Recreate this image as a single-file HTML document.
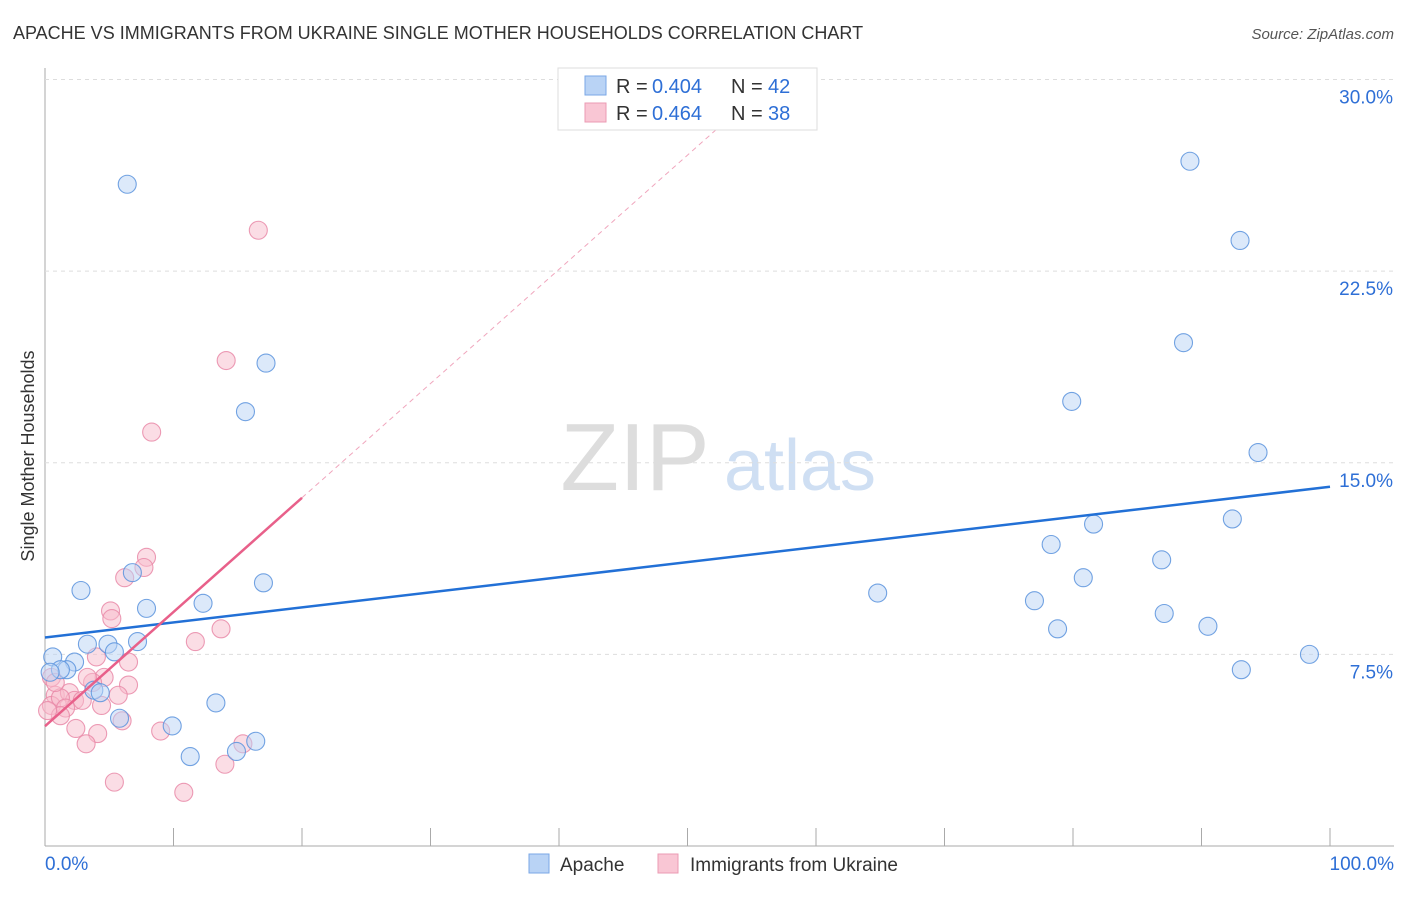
<!DOCTYPE html>
<html><head><meta charset="utf-8"><style>
body{margin:0;background:#fff;font-family:"Liberation Sans",sans-serif;}
svg text{font-family:"Liberation Sans",sans-serif;}
</style></head><body>
<svg id="chart" width="1406" height="892" xmlns="http://www.w3.org/2000/svg">
<text x="13" y="39" font-size="18" fill="#333">APACHE VS IMMIGRANTS FROM UKRAINE SINGLE MOTHER HOUSEHOLDS CORRELATION CHART</text>
<text x="1394" y="39" font-size="15" fill="#555" text-anchor="end" font-style="italic">Source: ZipAtlas.com</text>
<text transform="translate(34,456) rotate(-90)" font-size="18" fill="#333" text-anchor="middle">Single Mother Households</text>
<g><text x="635" y="490" font-size="96" fill="#ddd" font-family="Liberation Serif" text-anchor="middle">ZIP</text><text x="800" y="490" font-size="72" fill="#cfdff3" text-anchor="middle">atlas</text></g>
<g id="grid"></g><g id="marks"></g>
<g>
<rect x="558" y="68" width="259" height="62" fill="#fff" stroke="#ddd"/>
<rect x="585" y="76" width="21" height="19" fill="#b9d3f5" stroke="#7aa7e6"/>
<rect x="585" y="103" width="21" height="19" fill="#f9c6d4" stroke="#eb9bb3"/>
<text x="616" y="93" font-size="20" fill="#333">R =</text><text x="652" y="93" font-size="20" fill="#2e6fd6">0.404</text>
<text x="731" y="93" font-size="20" fill="#333">N =</text><text x="768" y="93" font-size="20" fill="#2e6fd6">42</text>
<text x="616" y="120" font-size="20" fill="#333">R =</text><text x="652" y="120" font-size="20" fill="#2e6fd6">0.464</text>
<text x="731" y="120" font-size="20" fill="#333">N =</text><text x="768" y="120" font-size="20" fill="#2e6fd6">38</text>
</g>
<g>
<rect x="529" y="854" width="20" height="19" fill="#b9d3f5" stroke="#7aa7e6"/>
<text x="560" y="871" font-size="19" fill="#333">Apache</text>
<rect x="658" y="854" width="20" height="19" fill="#f9c6d4" stroke="#eb9bb3"/>
<text x="690" y="871" font-size="19" fill="#333">Immigrants from Ukraine</text>
</g>
</svg>
<script>
const yTicks=[7.5,15,22.5,30];
const yTickLabels=["7.5%","15.0%","22.5%","30.0%"];
const xTickLabels=["0.0%","100.0%"];
const apacheX=[6.4,17.2,15.6,6.8,2.8,7.9,12.3,17,3.3,4.9,7.2,5.4,0.6,2.3,1.7,1.2,3.8,4.3,5.8,9.9,13.3,11.3,14.9,16.4,0.4,89.1,93,88.6,79.9,94.4,92.4,81.6,78.3,86.9,80.8,64.8,77.0,87.1,78.8,90.5,93.1,98.4];
const apacheY=[25.9,18.9,17.0,10.7,10.0,9.3,9.5,10.3,7.9,7.9,8.0,7.6,7.4,7.2,6.9,6.9,6.1,6.0,5.0,4.7,5.6,3.5,3.7,4.1,6.8,26.8,23.7,19.7,17.4,15.4,12.8,12.6,11.8,11.2,10.5,9.9,9.6,9.1,8.5,8.6,6.9,7.5];
const ukrX=[16.6,14.1,8.3,7.9,7.7,6.2,5.1,5.2,13.7,11.7,6.5,4.0,4.6,3.7,3.3,6.5,0.8,1.9,0.5,2.3,1.2,1.6,1.2,2.9,4.4,5.7,6.0,2.4,4.1,3.2,9.0,15.4,14.0,5.4,10.8,0.5,0.8,0.2];
const ukrY=[24.1,19.0,16.2,11.3,10.9,10.5,9.2,8.9,8.5,8.0,7.2,7.4,6.6,6.4,6.6,6.3,5.9,6.0,5.5,5.7,5.8,5.4,5.1,5.7,5.5,5.9,4.9,4.6,4.4,4.0,4.5,4.0,3.2,2.5,2.1,6.6,6.4,5.3];
const fitIntercept=[8.16,4.69];
const fitSlope=[0.059,0.447];
const NS="http://www.w3.org/2000/svg";
const sx=v=>45+v*12.85, sy=v=>846-v*25.55;
function mk(t,a,p){const e=document.createElementNS(NS,t);for(const k in a)e.setAttribute(k,a[k]);p.appendChild(e);return e;}
const g=document.getElementById('grid'),m=document.getElementById('marks');
let ax=mk('line',{x1:45,y1:68,x2:45,y2:846,stroke:'#aaa'},g);


let bx=mk('line',{x1:45,y1:846,x2:1394,y2:846,stroke:'#aaa'},g);


yTicks.forEach((t,i)=>{
 const l=mk('line',{x1:45,x2:1394,y1:sy(t),y2:sy(t),stroke:'#ddd','stroke-dasharray':'4,4'},g);
 
 
 const tx=mk('text',{x:1393,y:sy(t)+24,'font-size':19,fill:'#2e6fd6','text-anchor':'end'},g);tx.textContent=yTickLabels[i];
 
 
});
for(let i=0;i<=10;i++){const l=mk('line',{x1:sx(i*10),x2:sx(i*10),y1:828,y2:846,stroke:'#aaa'},g);
 
 }
[[0,45,'start'],[1,1394,'end']].forEach(([i,x,a])=>{const t=mk('text',{x:x,y:870,'font-size':19,fill:'#2e6fd6','text-anchor':a},g);t.textContent=xTickLabels[i];
 
 });
function pts(X,Y,fill,stroke,name){X.forEach((x,i)=>{const c=mk('circle',{cx:sx(x),cy:sy(Y[i]),r:9,fill:fill,'fill-opacity':0.5,stroke:stroke,'stroke-width':1.1,'stroke-opacity':0.85},m);
 
 });}
pts(ukrX,ukrY,'#f8bccc','#e98aa8','ukraine-point');
pts(apacheX,apacheY,'#b9d3f5','#5b93dd','apache-point');
let l1=mk('line',{x1:sx(0),y1:sy(fitIntercept[0]),x2:sx(100),y2:sy(fitIntercept[0]+fitSlope[0]*100),stroke:'#2270d6','stroke-width':2.5},m);


const xe=(30-fitIntercept[1])/fitSlope[1];
let l2d=mk('line',{x1:sx(20),y1:sy(fitIntercept[1]+fitSlope[1]*20),x2:sx(xe),y2:sy(30),stroke:'#f0a6bd','stroke-width':1,'stroke-dasharray':'5,4'},m);


let l2=mk('line',{x1:sx(0),y1:sy(fitIntercept[1]),x2:sx(20),y2:sy(fitIntercept[1]+fitSlope[1]*20),stroke:'#e8608a','stroke-width':2.5},m);


</script>
</body></html>
